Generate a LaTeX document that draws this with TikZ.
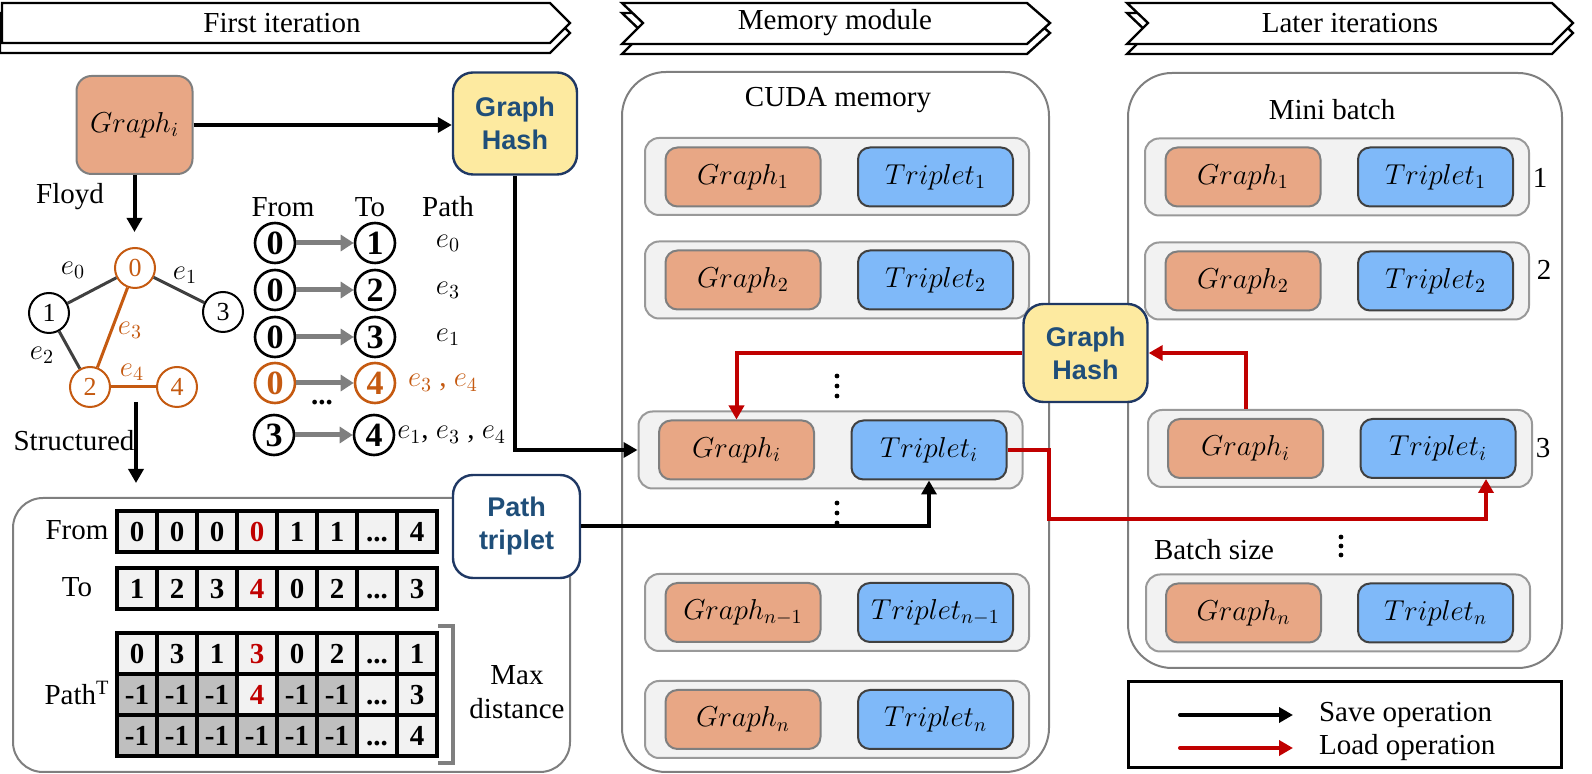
\documentclass[tikz,border=0pt]{standalone}
\usepackage{amsmath}
\usepackage{fontspec}
\setmainfont{Liberation Serif}
\newfontfamily\hashfont{Liberation Sans}
\usepackage{xcolor}
\usepackage{tikz}
\usetikzlibrary{arrows.meta}
\usetikzlibrary{calc}
\definecolor{salmon}{HTML}{E8A785}
\definecolor{skyblue}{HTML}{7FB9F9}
\definecolor{hashyellow}{HTML}{FDEAA0}
\definecolor{navy}{HTML}{1F3864}
\definecolor{hashtext}{HTML}{1F4E79}
\definecolor{floydorange}{HTML}{C55A11}
\definecolor{loadred}{HTML}{C00000}
\definecolor{slotgray}{HTML}{F2F2F2}
\definecolor{cellgray}{HTML}{BFBFBF}
\definecolor{panelgray}{HTML}{7F7F7F}
\definecolor{edgegray}{HTML}{404040}
\newcommand{\basefont}{\fontsize{14.5}{17}\selectfont}
\tikzstyle{bannerline} = [line width=1.2pt, fill=white]
\tikzstyle{panelbox} = [draw=panelgray, line width=1pt, rounded corners=22pt]
\tikzstyle{slotbox} = [draw=panelgray!80, fill=slotgray, line width=1pt, rounded corners=7pt, minimum width=192pt, minimum height=38.5pt]
\tikzstyle{graphbox} = [draw=panelgray, fill=salmon, line width=1pt, rounded corners=6pt, minimum width=77.5pt, minimum height=29.5pt]
\tikzstyle{tripletbox} = [draw=edgegray, fill=skyblue, line width=1pt, rounded corners=6pt, minimum width=77.5pt, minimum height=29.5pt]
\tikzstyle{hashbox} = [draw=navy, fill=hashyellow, line width=1.2pt, rounded corners=10pt, text=hashtext, font=\hashfont\bfseries\fontsize{13.5}{16.5}\selectfont, align=center, minimum width=62pt, minimum height=51pt]
\tikzstyle{vertex} = [circle, draw, line width=1pt, minimum size=20pt, inner sep=0pt, font=\fontsize{13}{14}\selectfont]
\tikzstyle{endpoint} = [circle, draw, line width=1.3pt, minimum size=20pt, inner sep=0pt, font=\fontsize{17}{19}\selectfont\bfseries]
\tikzstyle{edgeline} = [line width=1.5pt, edgegray]
\tikzstyle{cellbox} = [draw, line width=2pt, fill=slotgray, minimum width=20pt, minimum height=20.5pt, inner sep=0pt, text height=9.8pt, text depth=0pt, font=\basefont\bfseries]
\tikzstyle{greycell} = [cellbox, fill=cellgray]
\tikzstyle{saveline} = [line width=2pt, -{Triangle[length=7pt,width=7.5pt]}]
\tikzstyle{loadline} = [saveline, loadred]
\tikzstyle{pairarrow} = [line width=2.5pt, panelgray, -{Triangle[length=6.5pt,width=8pt]}]
\tikzstyle{bracketline} = [line width=2pt, panelgray]

\begin{document}
\begin{tikzpicture}[x=0.5pt, y=-0.5pt, font=\basefont]
	\useasboundingbox (0,0) rectangle (1592,774);
	\draw[bannerline] (0,13) -- (550,13) -- (570,33) -- (550,53) -- (0,53) -- cycle;
	\draw[bannerline] (2,3) -- (550,3) -- (570,23) -- (550,43) -- (2,43) -- cycle;
	\node (firstiter) at (282,23) {First iteration};
	\draw[bannerline] (622,13) -- (1027,13) -- (1050,33) -- (1027,54) -- (622,54) -- (643,33) -- cycle;
	\draw[bannerline] (622,3) -- (1027,3) -- (1050,23) -- (1027,44) -- (622,44) -- (643,23) -- cycle;
	\node (memmodule) at (835,23) {Memory module};
	\draw[bannerline] (1127,13) -- (1552,13) -- (1573,33) -- (1552,54) -- (1127,54) -- (1148,33) -- cycle;
	\draw[bannerline] (1127,3) -- (1552,3) -- (1573,23) -- (1552,44) -- (1127,44) -- (1148,23) -- cycle;
	\node (lateriter) at (1350,23) {Later iterations};

	\draw[panelbox, rounded corners=15pt] (13,498) rectangle (570,772);
	\draw[panelbox] (622,72) rectangle (1049,772);
	\draw[panelbox] (1128,73) rectangle (1562,668);

	\node[graphbox, minimum width=58pt, minimum height=49pt, rounded corners=7.5pt] (gin) at (134.5,125) {$Graph_i$};
	\node[hashbox] (hashA) at (515,123.5) {Graph\\Hash};
	\draw[saveline] (gin.east) -- (gin.east -| hashA.west);
	\coordinate (floydend) at (134.5,232);
	\draw[saveline] (gin.south) -- (floydend);
	\node (floyd) at (70,197) {Floyd};

	\node[vertex, draw=floydorange, text=floydorange] (v0) at (135,268) {0};
	\node[vertex] (v1) at (49,313) {1};
	\node[vertex] (v3) at (223,312) {3};
	\node[vertex, draw=floydorange, text=floydorange] (v2) at (90,387) {2};
	\node[vertex, draw=floydorange, text=floydorange] (v4) at (177,387) {4};
	\draw[edgeline] (v0) -- (v1);
	\draw[edgeline] (v0) -- (v3);
	\draw[edgeline] (v1) -- (v2);
	\draw[edgeline, floydorange] (v0) -- (v2);
	\draw[edgeline, floydorange] (v2) -- (v4);
	\node (le0) at (73,270) {$e_0$};
	\node (le1) at (185,275) {$e_1$};
	\node (le2) at (42,355) {$e_2$};
	\node[text=floydorange] (le3) at (130,330) {$e_3$};
	\node[text=floydorange] (le4) at (132,372) {$e_4$};
	\coordinate (structtop) at (136,402);
	\coordinate (structend) at (136,483);
	\draw[saveline] (structtop) -- (structend);
	\node (structured) at (74,441) {Structured};

	\node (hfrom) at (283,207) {From};
	\node (hto) at (370,207) {To};
	\node (hpath) at (448,207) {Path};
	\node[endpoint] (a1) at (275,243) {0};
	\node[endpoint] (b1) at (375,243) {1};
	\draw[pairarrow] (a1) -- (b1);
	\node (p1) at (448,243) {$e_0$};
	\node[endpoint] (a2) at (275,290) {0};
	\node[endpoint] (b2) at (375,290) {2};
	\draw[pairarrow] (a2) -- (b2);
	\node (p2) at (448,290) {$e_3$};
	\node[endpoint] (a3) at (275,337) {0};
	\node[endpoint] (b3) at (375,337) {3};
	\draw[pairarrow] (a3) -- (b3);
	\node (p3) at (448,337) {$e_1$};
	\node[endpoint, draw=floydorange, text=floydorange] (a4) at (275,383) {0};
	\node[endpoint, draw=floydorange, text=floydorange] (b4) at (375,383) {4};
	\draw[pairarrow] (a4) -- (b4);
	\node[text=floydorange] (p4) at (443,383) {$e_3$ , $e_4$};
	\node (rowdots) at (322,403) {\textbf{...}};
	\node[endpoint] (a5) at (274,435) {3};
	\node[endpoint] (b5) at (374,435) {4};
	\draw[pairarrow] (a5) -- (b5);
	\node[anchor=west, inner sep=0pt] (p5) at (397,435) {$e_1$, $e_3$ , $e_4$};

	\node (lfrom) at (77,530) {From};
	\node[cellbox] (f1) at (137,532) {0};
	\node[cellbox] (f2) at (177,532) {0};
	\node[cellbox] (f3) at (217,532) {0};
	\node[cellbox, text=loadred] (f4) at (257,532) {0};
	\node[cellbox] (f5) at (297,532) {1};
	\node[cellbox] (f6) at (337,532) {1};
	\node[cellbox] (f7) at (377,532) {...};
	\node[cellbox] (f8) at (417,532) {4};
	\node (lto) at (77,587) {To};
	\node[cellbox] (t1) at (137,588.5) {1};
	\node[cellbox] (t2) at (177,588.5) {2};
	\node[cellbox] (t3) at (217,588.5) {3};
	\node[cellbox, text=loadred] (t4) at (257,588.5) {4};
	\node[cellbox] (t5) at (297,588.5) {0};
	\node[cellbox] (t6) at (337,588.5) {2};
	\node[cellbox] (t7) at (377,588.5) {...};
	\node[cellbox] (t8) at (417,588.5) {3};
	\node (lpath) at (77,693) {Path\textsuperscript{T}};
	\node[cellbox] (pa1) at (137,653.5) {0};
	\node[cellbox] (pa2) at (177,653.5) {3};
	\node[cellbox] (pa3) at (217,653.5) {1};
	\node[cellbox, text=loadred] (pa4) at (257,653.5) {3};
	\node[cellbox] (pa5) at (297,653.5) {0};
	\node[cellbox] (pa6) at (337,653.5) {2};
	\node[cellbox] (pa7) at (377,653.5) {...};
	\node[cellbox] (pa8) at (417,653.5) {1};
	\node[greycell] (pb1) at (137,694.5) {-1};
	\node[greycell] (pb2) at (177,694.5) {-1};
	\node[greycell] (pb3) at (217,694.5) {-1};
	\node[cellbox, text=loadred] (pb4) at (257,694.5) {4};
	\node[greycell] (pb5) at (297,694.5) {-1};
	\node[greycell] (pb6) at (337,694.5) {-1};
	\node[cellbox] (pb7) at (377,694.5) {...};
	\node[cellbox] (pb8) at (417,694.5) {3};
	\node[greycell] (pc1) at (137,735.5) {-1};
	\node[greycell] (pc2) at (177,735.5) {-1};
	\node[greycell] (pc3) at (217,735.5) {-1};
	\node[greycell] (pc4) at (257,735.5) {-1};
	\node[greycell] (pc5) at (297,735.5) {-1};
	\node[greycell] (pc6) at (337,735.5) {-1};
	\node[cellbox] (pc7) at (377,735.5) {...};
	\node[cellbox] (pc8) at (417,735.5) {4};
	\draw[bracketline] (438,626) -- (453,626) -- (453,763) -- (438,763);
	\node[align=center] (maxdist) at (517,692) {Max\\distance};
	\node[hashbox, fill=white, minimum width=63.5pt, minimum height=51.5pt] (ptrip) at (516.5,526.5) {Path\\triplet};

	\node (cudalabel) at (838,100) {CUDA memory};
	\node[slotbox] (ms1) at (837,176.5) {};
	\node[graphbox] (mg1) at (743,177) {$Graph_1$};
	\node[tripletbox] (mt1) at (935.5,177) {$Triplet_1$};
	\node[slotbox] (ms2) at (837,280) {};
	\node[graphbox] (mg2) at (743,280) {$Graph_2$};
	\node[tripletbox] (mt2) at (935.5,280) {$Triplet_2$};
	\fill (837,376) circle[radius=1.2pt];
	\fill (837,386) circle[radius=1.2pt];
	\fill (837,396) circle[radius=1.2pt];
	\node[slotbox] (ms3) at (830.5,450) {};
	\node[graphbox] (mgi) at (736.5,450) {$Graph_i$};
	\node[tripletbox] (mti) at (929,450) {$Triplet_i$};
	\fill (837,503) circle[radius=1.2pt];
	\fill (837,513) circle[radius=1.2pt];
	\fill (837,523) circle[radius=1.2pt];
	\node[slotbox] (ms4) at (837,612.5) {};
	\node[graphbox] (mg4) at (743,612.5) {$Graph_{n-1}$};
	\node[tripletbox] (mt4) at (935.5,612.5) {$Triplet_{n-1}$};
	\node[slotbox] (ms5) at (837,719.5) {};
	\node[graphbox] (mg5) at (743,719.5) {$Graph_n$};
	\node[tripletbox] (mt5) at (935.5,719.5) {$Triplet_n$};

	\node (minilabel) at (1332,110) {Mini batch};
	\node[slotbox] (rs1) at (1337,177) {};
	\node[graphbox] (rg1) at (1243,177) {$Graph_1$};
	\node[tripletbox] (rt1) at (1435.5,177) {$Triplet_1$};
	\node (rn1) at (1540,178) {1};
	\node[slotbox] (rs2) at (1337,281) {};
	\node[graphbox] (rg2) at (1243,281) {$Graph_2$};
	\node[tripletbox] (rt2) at (1435.5,281) {$Triplet_2$};
	\node (rn2) at (1544,270) {2};
	\node[slotbox] (rs3) at (1340,448.5) {};
	\node[graphbox] (rgi) at (1245.5,448.5) {$Graph_i$};
	\node[tripletbox] (rti) at (1438,448.5) {$Triplet_i$};
	\node (rn3) at (1543,448) {3};
	\node (batchsize) at (1214,550) {Batch size};
	\fill (1341,537) circle[radius=1.2pt];
	\fill (1341,546) circle[radius=1.2pt];
	\fill (1341,555) circle[radius=1.2pt];
	\node[slotbox] (rs4) at (1338,613) {};
	\node[graphbox] (rg4) at (1243.5,613) {$Graph_n$};
	\node[tripletbox] (rt4) at (1435.5,613) {$Triplet_n$};

	\node[hashbox, minimum height=49pt] (hashB) at (1085.5,353) {Graph\\Hash};

	\draw[saveline] (hashA.south) |- (ms3.west);
	\draw[saveline] (ptrip.east) -| (mti.south);
	\draw[loadline] (rgi |- rs3.north) |- (hashB.east);
	\draw[loadline] (hashB.west) -| (mgi.north);
	\coordinate (lbend) at (1049,519);
	\coordinate (lend) at (1486,519);
	\draw[loadline] (mti.east) -| (lbend) -- (lend) -- (lend |- rti.south);

	\node[draw, line width=1.5pt, minimum width=216.5pt, minimum height=43pt] (legend) at (1344.5,725) {};
	\coordinate (saveA) at (1180,715);
	\coordinate (saveB) at (1293,715);
	\draw[saveline, line cap=round] (saveA) -- (saveB);
	\node[anchor=west] (savetext) at (1312,715) {Save operation};
	\coordinate (loadA) at (1180,748);
	\coordinate (loadB) at (1293,748);
	\draw[loadline, line cap=round] (loadA) -- (loadB);
	\node[anchor=west] (loadtext) at (1312,748) {Load operation};
\end{tikzpicture}
\end{document}
